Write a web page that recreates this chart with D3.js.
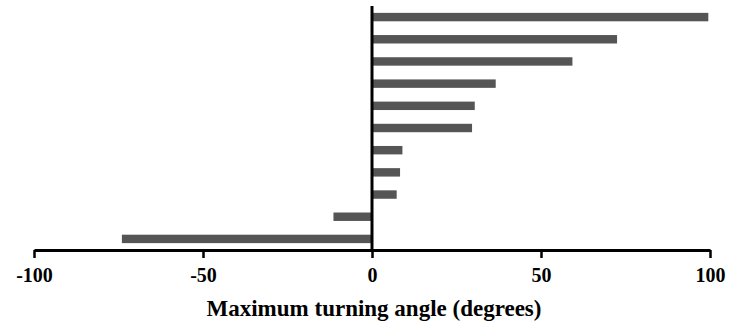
<!DOCTYPE html>
<html><head><meta charset="utf-8">
<script src="https://cdn.jsdelivr.net/npm/d3@7/dist/d3.min.js"></script>
<style>body{margin:0;background:#fff}</style>
</head><body>
<svg id="c" width="729" height="325"></svg>
<script>
const categories = ["A","B","C","D","E","F","G","H","I","J","K"];
const values = [99.5, 72.5, 59.3, 36.6, 30.4, 29.6, 9.0, 8.3, 7.3, -11.4, -74];
const tickValues = [-100, -50, 0, 50, 100];
const xTitle = "Maximum turning angle (degrees)";

const svg = d3.select("#c");
const x = d3.scaleLinear().domain([-100, 100]).range([34, 710]);
const y = d3.scaleBand().domain(categories).range([6, 250]).paddingInner(0.62).paddingOuter(0.31);

svg.selectAll("rect.bar").data(values).join("rect")
  .attr("class","bar")
  .attr("x", d => x(Math.min(0,d)))
  .attr("width", d => Math.abs(x(d)-x(0)))
  .attr("y", (d,i) => y(categories[i]))
  .attr("height", y.bandwidth())
  .attr("fill", "#555555");

const ax = svg.append("g").attr("transform","translate(0,250)")
  .call(d3.axisBottom(x).tickValues(tickValues).tickSize(8).tickSizeOuter(0).tickFormat(d => String(d)));
ax.select(".domain").attr("stroke","#000").attr("stroke-width",3);
ax.selectAll(".tick line").attr("stroke","#000").attr("stroke-width",2.5);
ax.selectAll(".tick text").attr("y",18)
  .attr("font-family","'Liberation Serif', serif").attr("font-weight","bold")
  .attr("font-size",20).attr("fill","#000");

svg.append("line").attr("x1",x(0)).attr("x2",x(0)).attr("y1",6).attr("y2",251)
  .attr("stroke","#000").attr("stroke-width",3);

svg.append("text").attr("x",374).attr("y",316).attr("text-anchor","middle")
  .attr("font-family","'Liberation Serif', serif").attr("font-weight","bold")
  .attr("font-size",23).text(xTitle);
</script>
</body></html>
